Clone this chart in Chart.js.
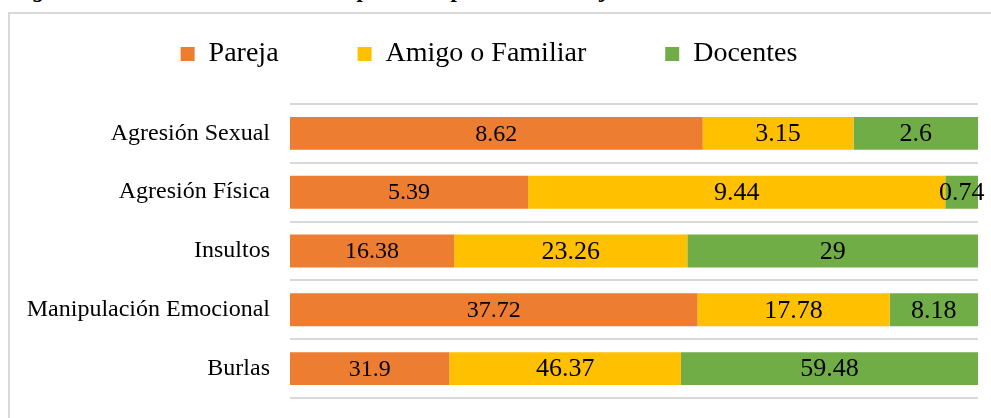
<!DOCTYPE html>
<html lang="es">
<head>
    <meta charset="UTF-8">
    <title>Procedencia de la violencia percibida</title>
    <script src="https://cdn.jsdelivr.net/npm/chart.js"></script>
    <style>
        html, body {
            margin: 0;
            padding: 0;
            width: 991px;
            height: 418px;
            overflow: hidden;
            background: #fff;
        }
        .caption {
            position: absolute;
            left: 12px;
            top: -22px;
            font: italic bold 23px 'Liberation Serif', 'Times New Roman', serif;
            line-height: 1;
            white-space: nowrap;
            color: #000;
        }
        .frame {
            position: absolute;
            left: 8px;
            top: 12px;
            width: 1200px;
            height: 600px;
            border: 2px solid #d9d9d9;
            box-sizing: border-box;
        }
        .chart-box {
            position: absolute;
            left: 0;
            top: -39px;
            width: 991px;
            height: 457px;
        }
    </style>
</head>
<body>
    <div class="caption">Figura 3: Incidencia de la violencia percibida por estudiantes jóvenes a través de las redes sociales de la U</div>
    <div class="frame"></div>
    <div class="chart-box"><canvas id="chart"></canvas></div>

    <script>
        // values
        const categories = ['Agresión Sexual', 'Agresión Física', 'Insultos', 'Manipulación Emocional', 'Burlas'];
        const pareja = [8.62, 5.39, 16.38, 37.72, 31.9];
        const amigoFamiliar = [3.15, 9.44, 23.26, 17.78, 46.37];
        const docentes = [2.6, 0.74, 29, 8.18, 59.48];
        const seriesNames = ['Pareja', 'Amigo o Familiar', 'Docentes'];

        const seriesColors = ['#ED7D31', '#FFC000', '#70AD47'];
        const labelSizes = [24, 26, 26];
        const fontFamily = "'Liberation Serif', 'Times New Roman', serif";

        // bars are 100% stacked, labels show the raw values
        const allSeries = [pareja, amigoFamiliar, docentes];
        const totals = categories.map((c, j) => allSeries.reduce((s, arr) => s + arr[j], 0));

        const datasets = allSeries.map((arr, i) => ({
            label: seriesNames[i],
            data: arr.map((v, j) => v / totals[j] * 100),
            rawValues: arr,
            backgroundColor: seriesColors[i],
            borderWidth: 0,
            barPercentage: 0.56,
            categoryPercentage: 1.0
        }));

        // push the plot down below the legend
        const legendGap = {
            id: 'legendGap',
            beforeInit(chart) {
                if (!chart.legend) return;
                const fit = chart.legend.fit;
                chart.legend.fit = function () {
                    fit.call(this);
                    this.height += 26;
                };
            }
        };

        const valueLabels = {
            id: 'valueLabels',
            afterDatasetsDraw(chart) {
                const ctx = chart.ctx;
                ctx.save();
                ctx.textAlign = 'center';
                ctx.textBaseline = 'middle';
                ctx.fillStyle = '#000';
                chart.data.datasets.forEach((ds, i) => {
                    const meta = chart.getDatasetMeta(i);
                    ctx.font = labelSizes[i] + 'px ' + fontFamily;
                    meta.data.forEach((bar, j) => {
                        const p = bar.getProps(['x', 'y', 'base'], true);
                        ctx.fillText(String(ds.rawValues[j]), (p.x + p.base) / 2, p.y + 1);
                    });
                });
                ctx.restore();
            }
        };

        new Chart(document.getElementById('chart'), {
            type: 'bar',
            data: { labels: categories, datasets: datasets },
            plugins: [legendGap, valueLabels],
            options: {
                indexAxis: 'y',
                responsive: true,
                maintainAspectRatio: false,
                animation: false,
                layout: { padding: { left: 0, right: 13, top: 0, bottom: 20 } },
                plugins: {
                    tooltip: { enabled: false },
                    legend: {
                        position: 'top',
                        labels: {
                            boxWidth: 14,
                            boxHeight: 14,
                            padding: 79,
                            color: '#000',
                            font: { family: fontFamily, size: 28 }
                        }
                    }
                },
                scales: {
                    x: {
                        stacked: true,
                        min: 0,
                        max: 100,
                        display: false
                    },
                    y: {
                        stacked: true,
                        afterFit(scale) {
                            scale.width = 290;
                            scale.paddingTop = 0;
                            scale.paddingBottom = 0;
                        },
                        grid: {
                            color: '#d9d9d9',
                            lineWidth: 2,
                            drawTicks: false
                        },
                        border: { display: false },
                        ticks: {
                            padding: 20,
                            color: '#000',
                            font: { family: fontFamily, size: 24 }
                        }
                    }
                }
            }
        });
    </script>
</body>
</html>
